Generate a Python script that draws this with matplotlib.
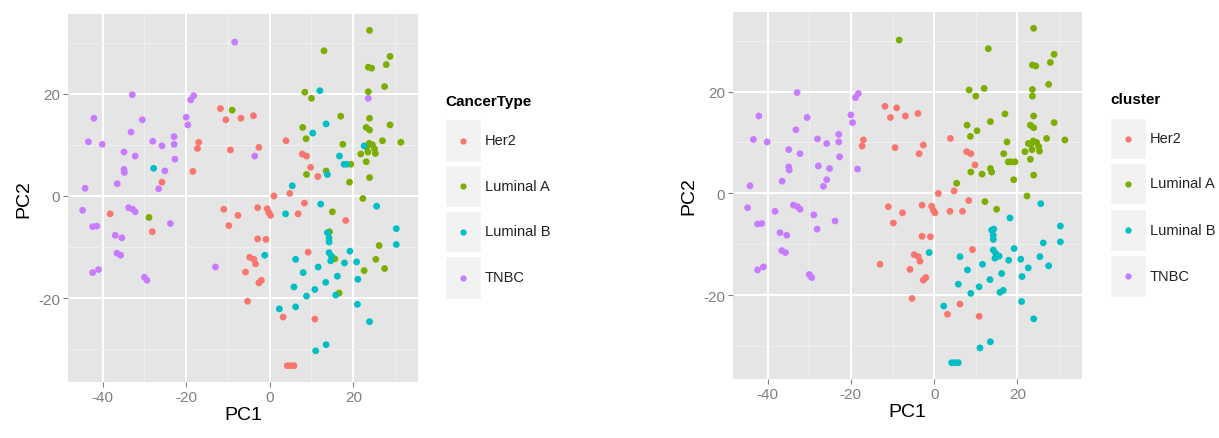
import matplotlib
matplotlib.use("Agg")
import matplotlib.pyplot as plt
from matplotlib import font_manager
from matplotlib.patches import Rectangle
from matplotlib.lines import Line2D

# ---------------- data ----------------
pc1 = [
    # TNBC (CancerType)
    -8.4, -32.9, -18.9, -18.2, -42.1, -30.5, -20.0, -19.6, -33.2, -43.4, -40.1, -28.0, -25.8,
    -22.9, -22.9, -34.9, -32.2, -22.7, -3.6, -34.9, -34.8, -25.1, -36.5, -44.2, -26.6, 23.6,
    -44.8, -33.8, -32.8, -32.2, -42.4, -41.4, -23.8, -37.0, -35.4, -36.6, -35.7, -13.0, -42.4,
    -41.0, -30.0, -29.4,
    # Her2
    -11.8, -10.5, -6.9, -3.9, -17.0, -17.3, -9.4, -2.6, -18.4, -25.8, -38.2, -28.1, 3.9, 7.8,
    8.8, 9.8, 11.5, 1.0, 4.8, 8.3, 6.8, -11.0, -7.6, -9.8, -2.9, -0.6, -0.2, 0.2, -2.9, -0.9,
    -4.8, -3.8, -3.4, -5.8, -2.6, -2.0, 9.2, 18.2, -5.3, 3.2, 10.8, 4.2, 5.0, 5.8,
    # Luminal A
    23.9, 13.0, 23.6, 24.4, 28.8, 27.9, 27.5, 23.6, 8.4, 10.0, -9.0, 17.0, 23.9, 7.9, 23.1,
    23.9, 28.8, 8.7, 27.0, 31.4, 17.5, 23.2, 23.8, 24.6, 25.1, 25.3, 23.5, 21.8, 23.1, 19.4,
    8.8, 13.5, 23.9, 19.1, 22.3, -28.9, 15.0, 14.3, 26.2, 15.6, 25.4, 22.6, 27.5, 16.6,
    # Luminal B
    12.0, 10.3, 13.5, 22.6, 16.7, 17.8, 18.4, 13.8, 5.4, 3.8, 12.2, 25.6, 13.8, 14.2, 14.2,
    30.3, 30.3, -1.2, 6.2, 14.2, 14.8, 14.6, 19.2, 17.9, 20.8, 11.6, 8.0, 16.2, 13.4, 21.1,
    5.8, 10.8, 8.8, 15.8, 2.3, 6.2, 21.0, 23.9, 13.5, 11.0, -27.8,
]
pc2 = [
    # TNBC
    30.1, 19.8, 18.8, 19.6, 15.2, 14.9, 15.4, 13.9, 12.5, 10.6, 10.1, 10.7, 9.8,
    11.6, 10.1, 8.6, 7.8, 7.2, 7.8, 5.2, 4.6, 4.9, 2.4, 1.5, 1.4, 19.1,
    -2.8, -2.3, -2.6, -3.1, -6.0, -5.9, -5.4, -7.7, -8.2, -11.2, -11.6, -13.9, -15.0,
    -14.4, -15.9, -16.5,
    # Her2
    17.1, 14.9, 15.2, 15.7, 10.5, 9.3, 9.0, 9.5, 4.8, 2.7, -3.5, -7.0, 10.8, 8.2,
    7.8, 5.6, 3.8, 0.0, 0.5, -1.4, -3.5, -2.6, -3.8, -5.8, -2.3, -2.5, -3.3, -3.8, -8.4, -8.5,
    -12.0, -12.4, -13.3, -14.9, -17.0, -16.5, -11.0, -4.8, -20.6, -23.7, -24.1, -33.2, -33.2, -33.2,
    # Luminal A
    32.4, 28.4, 25.2, 25.0, 27.3, 25.7, 21.4, 20.4, 20.3, 19.1, 16.8, 15.6, 15.2, 13.4, 13.4,
    12.9, 13.9, 11.2, 10.8, 10.5, 10.1, 9.6, 10.3, 10.0, 9.2, 8.3, 8.6, 8.2, 6.7, 6.2,
    4.2, 4.9, 3.6, 2.7, -0.5, -4.2, -3.1, -7.0, -9.7, -12.3, -12.4, -14.6, -14.2, -19.0,
    # Luminal B
    20.6, 12.3, 14.1, 9.8, 7.8, 6.2, 6.2, 4.2, 2.0, -3.5, -1.6, -2.0, -7.2, -8.2, -9.0,
    -6.4, -9.5, -11.6, -12.4, -11.1, -11.8, -12.7, -10.8, -13.1, -12.9, -13.9, -15.0, -15.7, -16.9, -16.3,
    -17.8, -18.3, -19.6, -19.4, -22.1, -21.7, -21.2, -24.6, -29.1, -30.3, 5.4,
]
cancer_type = (["TNBC"] * 42 + ["Her2"] * 44 + ["Luminal A"] * 44 + ["Luminal B"] * 41)
cluster = (
    # TNBC rows
    ["Luminal A"] + ["TNBC"] * 17 + ["Her2"] + ["TNBC"] * 6 + ["Luminal A"]
    + ["TNBC"] * 11 + ["Her2"] + ["TNBC"] * 4
    # Her2 rows
    + ["Her2"] * 8 + ["TNBC"] * 4 + ["Her2"] * 4 + ["Luminal A"] + ["Her2"] * 20
    + ["Luminal B"] + ["Her2"] * 3 + ["Luminal B"] * 3
    # Luminal A rows
    + ["Luminal A"] * 10 + ["Her2"] + ["Luminal A"] * 24 + ["TNBC"] + ["Luminal A"]
    + ["Luminal B"] * 7
    # Luminal B rows
    + ["Luminal A"] * 9 + ["Her2"] + ["Luminal A"] + ["Luminal B"] * 24 + ["Her2"]
    + ["Luminal B"] * 4 + ["TNBC"]
)
levels = ["Her2", "Luminal A", "Luminal B", "TNBC"]
x_ticks = [-40, -20, 0, 20]
y_ticks = [-20, 0, 20]

# ---------------- style ----------------
palette = {"Her2": "#F8766D", "Luminal A": "#7CAE00", "Luminal B": "#00BFC4", "TNBC": "#C77CFF"}
avail = {f.name for f in font_manager.fontManager.ttflist}
fam = "Liberation Sans Narrow" if "Liberation Sans Narrow" in avail else "Liberation Sans"
plt.rcParams["font.family"] = [fam, "DejaVu Sans"]
plt.rcParams["axes.unicode_minus"] = False

W, H = 1219, 439
fig = plt.figure(figsize=(W / 100, H / 100), dpi=100)
fig.patch.set_facecolor("white")

def fx(px):
    return px / W

def fy(py):
    return 1 - py / H

def panel(rect, colour_by):
    ax = fig.add_axes(rect)
    ax.set_facecolor("#E5E5E5")
    ax.set_xlim(-48.3, 35.5)
    ax.set_ylim(-36.4, 35.6)
    ax.set_xticks(x_ticks)
    ax.set_yticks(y_ticks)
    ax.set_xticks([-30, -10, 10, 30], minor=True)
    ax.set_yticks([-30, -10, 10, 30], minor=True)
    ax.grid(which="major", color="white", linewidth=1.4)
    ax.grid(which="minor", color="#F2F2F2", linewidth=0.6)
    ax.set_axisbelow(True)
    for s in ax.spines.values():
        s.set_visible(False)
    ax.tick_params(which="major", length=3.5, width=0.8, color="#7F7F7F",
                   labelcolor="#7F7F7F", labelsize=11, pad=2)
    ax.tick_params(which="minor", length=0)
    cols = [palette[c] for c in colour_by]
    ax.scatter(pc1, pc2, c=cols, s=24, linewidths=0, zorder=3)
    ax.set_xlabel("PC1", fontsize=14, labelpad=2)
    ax.set_ylabel("PC2", fontsize=14, labelpad=4)
    return ax

axL = panel([fx(68), fy(383), fx(418) - fx(68), fy(15) - fy(383)], cancer_type)
axR = panel([fx(733), fy(380), fx(1082) - fx(733), fy(13) - fy(380)], cluster)

def legend(title, x0, ytitle, rows):
    fig.text(fx(x0), fy(ytitle), title, fontsize=11, fontweight="bold",
             ha="left", va="center", color="black")
    for lev, (top, bot) in zip(levels, rows):
        fig.add_artist(Rectangle((fx(x0), fy(bot)), fx(36), fy(top) - fy(bot),
                                 transform=fig.transFigure, facecolor="#F2F2F2",
                                 edgecolor="white", linewidth=1))
        cy = (top + bot) / 2
        fig.add_artist(Line2D([fx(x0 + 18)], [fy(cy)], marker="o", markersize=3.5,
                              color=palette[lev], linestyle="none",
                              transform=fig.transFigure))
        fig.text(fx(x0 + 40), fy(cy), lev, fontsize=10.5, ha="left", va="center",
                 color="#222222")

legend("CancerType", 445, 102, [(120, 163), (166, 208), (212, 253), (257, 300)])
legend("cluster", 1110, 100, [(119, 160), (164, 205), (210, 252), (256, 298)])

fig.savefig("out.png", dpi=100)
